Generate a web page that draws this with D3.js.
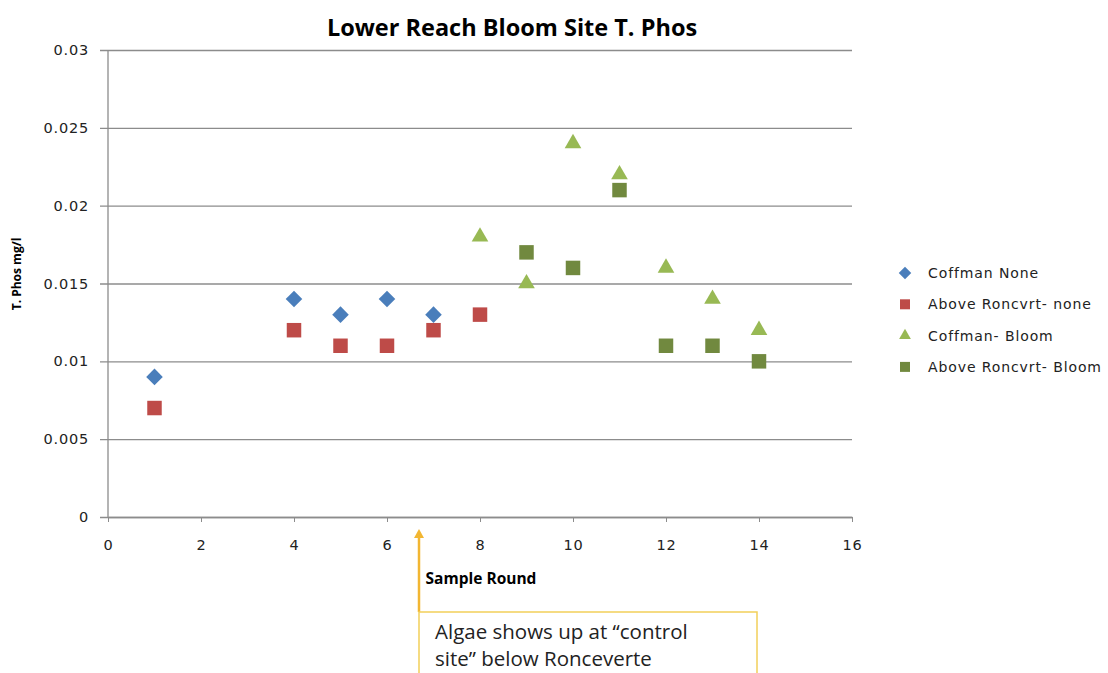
<!DOCTYPE html>
<html>
<head>
<meta charset="utf-8">
<script src="https://cdn.jsdelivr.net/npm/d3@7"></script>
<style>
  body { margin: 0; background: #fff; }
  svg { display: block; }
  .tick text { font-family: "DejaVu Sans", Verdana, sans-serif; font-size: 14.5px; letter-spacing: 0.8px; fill: #222; }
</style>
</head>
<body>
<svg id="chart" width="1108" height="673"></svg>
<script>
  // data
  var seriesNames = ['Coffman None', 'Above Roncvrt- none', 'Coffman- Bloom', 'Above Roncvrt- Bloom'];
  var coffmanNone = [[1, 0.009], [4, 0.014], [5, 0.013], [6, 0.014], [7, 0.013]];
  var aboveNone = [[1, 0.007], [4, 0.012], [5, 0.011], [6, 0.011], [7, 0.012], [8, 0.013]];
  var coffmanBloom = [[8, 0.018], [9, 0.015], [10, 0.024], [11, 0.022], [12, 0.016], [13, 0.014], [14, 0.012]];
  var aboveBloom = [[9, 0.017], [10, 0.016], [11, 0.021], [12, 0.011], [13, 0.011], [14, 0.010]];
  var xTicks = [0, 2, 4, 6, 8, 10, 12, 14, 16];
  var yTicks = [0, 0.005, 0.01, 0.015, 0.02, 0.025, 0.03];

  var series = [
    { name: seriesNames[0], data: coffmanNone, shape: d3.symbolDiamond2, size: 175, legendSize: 100, color: '#4a7ebb' },
    { name: seriesNames[1], data: aboveNone, shape: d3.symbolSquare, size: 210, legendSize: 100, color: '#be4b48' },
    { name: seriesNames[2], data: coffmanBloom, shape: d3.symbolTriangle, size: 120, legendSize: 60, color: '#98b954' },
    { name: seriesNames[3], data: aboveBloom, shape: d3.symbolSquare, size: 210, legendSize: 100, color: '#71893f' }
  ];

  var svg = d3.select('#chart');
  var mLeft = 108, mRight = 852, mTop = 50, mBottom = 517;

  var x = d3.scaleLinear().domain([0, 16]).range([mLeft, mRight]);
  var y = d3.scaleLinear().domain([0, 0.03]).range([mBottom, mTop]);

  // title
  svg.append('text')
    .attr('x', 512).attr('y', 36)
    .attr('text-anchor', 'middle')
    .style('font-family', '"Open Sans", sans-serif')
    .style('font-weight', 'bold')
    .style('font-size', '23.5px')
    .text('Lower Reach Bloom Site T. Phos');

  // y axis with gridlines
  var yAxis = svg.append('g')
    .attr('transform', 'translate(' + mLeft + ',0)')
    .call(d3.axisLeft(y).tickValues(yTicks).tickSize(-(mRight - mLeft)).tickPadding(19)
      .tickFormat(function (d) { return d === 0 ? '0' : String(+d.toFixed(3)); }));
  yAxis.select('.domain').remove();
  yAxis.selectAll('.tick line').attr('stroke', '#8c8c8c').attr('stroke-width', 1.3)
    .attr('x1', -8);
  svg.append('line')
    .attr('x1', mLeft).attr('x2', mLeft).attr('y1', mTop).attr('y2', mBottom)
    .attr('stroke', '#8c8c8c').attr('stroke-width', 1.3);

  // x axis
  var xAxis = svg.append('g')
    .attr('transform', 'translate(0,' + mBottom + ')')
    .call(d3.axisBottom(x).tickValues(xTicks).tickSize(5).tickPadding(18).tickSizeOuter(0));
  xAxis.select('.domain').attr('stroke', '#8c8c8c').attr('stroke-width', 1.3);
  xAxis.selectAll('.tick line').attr('stroke', '#8c8c8c');

  // axis titles
  svg.append('text')
    .attr('transform', 'translate(21,274) rotate(-90)')
    .attr('text-anchor', 'middle')
    .style('font-family', '"Open Sans", sans-serif')
    .style('font-weight', 'bold')
    .style('font-size', '12px')
    .text('T. Phos mg/l');
  svg.append('text')
    .attr('x', 481).attr('y', 584)
    .attr('text-anchor', 'middle')
    .style('font-family', '"Open Sans", sans-serif')
    .style('font-weight', 'bold')
    .style('font-size', '15.5px')
    .text('Sample Round');

  // points
  series.forEach(function (s) {
    svg.append('g').selectAll('path')
      .data(s.data)
      .enter()
      .append('path')
      .attr('transform', function (d) { return 'translate(' + x(d[0]) + ',' + y(d[1]) + ')'; })
      .attr('d', d3.symbol().type(s.shape).size(s.size))
      .attr('fill', s.color);
  });

  // legend
  var legend = svg.append('g').selectAll('g')
    .data(series)
    .enter()
    .append('g')
    .attr('transform', function (d, i) { return 'translate(905,' + (273 + i * 31.3) + ')'; });
  legend.append('path')
    .attr('d', function (d) { return d3.symbol().type(d.shape).size(d.legendSize)(); })
    .attr('fill', function (d) { return d.color; });
  legend.append('text')
    .attr('x', 23).attr('y', 5)
    .style('font-family', '"DejaVu Sans", Verdana, sans-serif')
    .style('font-size', '14px')
    .style('letter-spacing', '0.9px')
    .attr('fill', '#222')
    .text(function (d) { return d.name; });

  // annotation arrow and callout box
  var arrowX = 419;
  svg.append('line')
    .attr('x1', arrowX).attr('x2', arrowX).attr('y1', 536).attr('y2', 612)
    .attr('stroke', '#f2b632').attr('stroke-width', 2.5);
  svg.append('path')
    .attr('d', 'M' + arrowX + ',529 L' + (arrowX - 5) + ',538 L' + (arrowX + 5) + ',538 Z')
    .attr('fill', '#f2b632');
  svg.append('rect')
    .attr('x', arrowX).attr('y', 612).attr('width', 338).attr('height', 80)
    .attr('fill', '#fff')
    .attr('stroke', '#f2cf5a').attr('stroke-width', 1.5);
  var note = svg.append('text')
    .style('font-family', '"Open Sans", sans-serif')
    .style('font-size', '20.5px')
    .attr('fill', '#222');
  note.append('tspan').attr('x', 435).attr('y', 639).text('Algae shows up at \u201ccontrol');
  note.append('tspan').attr('x', 435).attr('y', 666).text('site\u201d below Ronceverte');
</script>
</body>
</html>
